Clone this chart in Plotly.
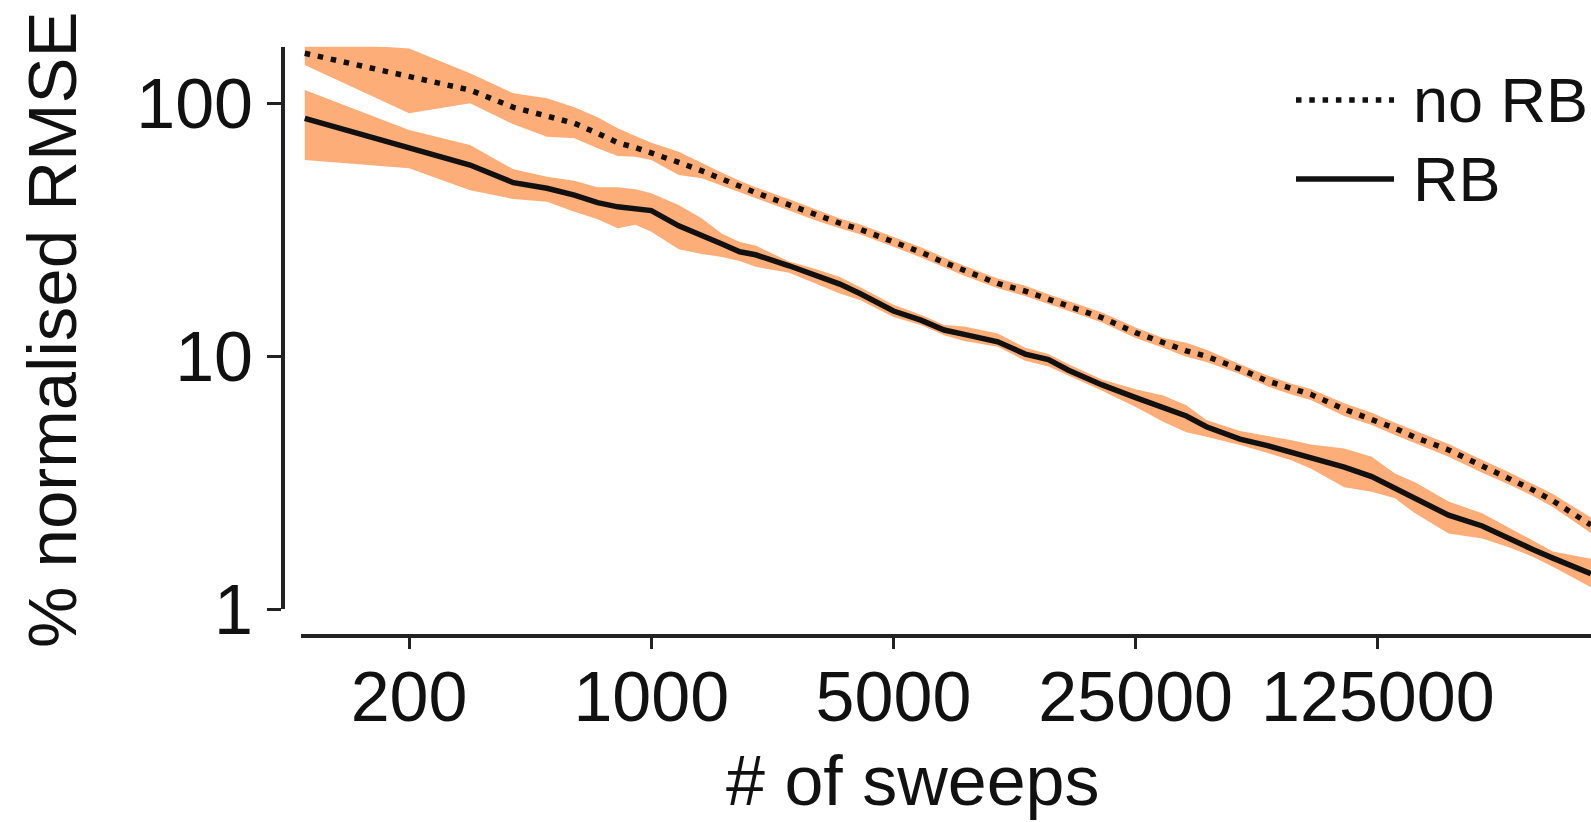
import plotly.graph_objects as go

# Number of sweeps (log-spaced sample points)
sweeps = [100, 200, 300, 400, 500, 600, 700, 800, 900, 1000,
          1200, 1400, 1600, 1800, 2000, 2500, 3000, 3500, 4000, 5000,
          6000, 7000, 8000, 10000, 12000, 14000, 16000, 20000, 25000, 30000,
          35000, 40000, 50000, 60000, 70000, 80000, 100000, 120000, 140000, 160000,
          200000, 250000, 300000, 350000, 400000, 515000]

# % normalised RMSE without Rao-Blackwellisation: mean and spread
no_rb = [158, 127.6, 113, 96.6, 89.2, 83.5, 76.2, 70, 66.9, 63.9,
         58.5, 54.1, 50.1, 46.9, 44.4, 39.7, 36.2, 33.6, 31.8, 28.4,
         25.8, 23.5, 21.8, 19.4, 18.1, 16.8, 15.8, 14.2, 12.4, 11.3,
         10.5, 10.0, 8.9, 7.98, 7.44, 7.07, 6.17, 5.65, 5.19, 4.78,
         4.26, 3.68, 3.29, 2.96, 2.68, 2.15]
no_rb_hi = [176, 165, 131.7, 109.7, 104.9, 96.6, 88.2, 79.8, 74.3, 70,
            64.5, 58, 53.2, 49.5, 46.6, 41.8, 37.9, 35.1, 33.3, 29.7,
            27, 24.6, 22.8, 20.3, 19, 17.6, 16.5, 14.9, 13, 11.8,
            11.3, 10.6, 9.3, 8.4, 7.8, 7.42, 6.51, 5.98, 5.46, 5.08,
            4.5, 3.89, 3.47, 3.12, 2.85, 2.3]
no_rb_lo = [142, 91.5, 100.2, 82.7, 73.9, 72.8, 66.5, 62, 61.6, 59.8,
            52.1, 50.6, 47.2, 44.4, 42.2, 37.7, 34.4, 32.1, 30.4, 27.1,
            24.6, 22.5, 20.8, 18.6, 17.3, 16.1, 15.1, 13.6, 11.8, 10.8,
            9.96, 9.5, 8.5, 7.6, 7.07, 6.71, 5.8, 5.35, 4.88, 4.52,
            4.0, 3.46, 3.1, 2.8, 2.53, 2.0]

# % normalised RMSE with Rao-Blackwellisation: mean and spread
rb = [87.4, 66.5, 57.1, 48.6, 46.2, 43.4, 40.5, 39, 38.5, 37.7,
      32.8, 30.2, 27.8, 25.9, 25.2, 22.8, 20.8, 19.3, 17.7, 15.1,
      13.9, 12.7, 12.2, 11.4, 10.2, 9.7, 8.8, 7.7, 6.86, 6.3,
      5.8, 5.26, 4.7, 4.43, 4.19, 3.97, 3.64, 3.34, 3.0, 2.77,
      2.35, 2.13, 1.89, 1.72, 1.59, 1.38]
rb_hi = [113, 78.6, 68.5, 54.9, 51.3, 49.5, 46.6, 46.6, 45.8, 44.1,
         39.7, 35.1, 30.5, 28.3, 27.4, 23.7, 22.1, 20.6, 18.8, 16,
         14.6, 13.3, 13.1, 12.3, 10.8, 10.2, 9.3, 8.1, 7.4, 7.0,
         6.4, 5.6, 5.06, 4.85, 4.66, 4.48, 4.32, 4.0, 3.44, 3.17,
         2.66, 2.39, 2.09, 1.87, 1.69, 1.58]
rb_lo = [59.8, 55.4, 45.4, 41.9, 40.9, 37.3, 34.8, 32.1, 33.1, 31.1,
         26.5, 25.4, 24.7, 23.8, 22.6, 21.4, 19.3, 17.7, 16.7, 14.3,
         13.3, 12.1, 11.5, 10.9, 9.6, 9.1, 8.4, 7.3, 6.3, 5.5,
         5.0, 4.8, 4.46, 4.15, 3.89, 3.6, 3.03, 2.91, 2.74, 2.39,
         1.99, 1.9, 1.75, 1.61, 1.47, 1.22]

x_tickvals = [200, 1000, 5000, 25000, 125000]
x_ticktext = ["200", "1000", "5000", "25000", "125000"]
y_tickvals = [1, 10, 100]
y_ticktext = ["1", "10", "100"]

W, H = 1591, 822
FONT = "Liberation Sans, Arial, sans-serif"
BAND = "rgb(253,173,120)"
INK = "#111111"
AXIS = "#222222"
LW = 5.5
DOT = "5.5px,7.8px"

fig = go.Figure()

for hi, lo in [(no_rb_hi, no_rb_lo), (rb_hi, rb_lo)]:
    fig.add_trace(go.Scatter(
        x=sweeps + sweeps[::-1], y=hi + lo[::-1],
        fill="toself", fillcolor=BAND, mode="lines",
        line=dict(width=0, color=BAND), hoverinfo="skip", showlegend=False))

fig.add_trace(go.Scatter(x=sweeps, y=no_rb, mode="lines", name="no RB",
                         line=dict(color=INK, width=LW, dash=DOT), showlegend=False))
fig.add_trace(go.Scatter(x=sweeps, y=rb, mode="lines", name="RB",
                         line=dict(color=INK, width=LW), showlegend=False))

# legend drawn as line samples plus labels
def px_x(v):
    return v / W

def px_y(v):
    return (H - v) / H

for y, dash, label in [(100, DOT, "no RB"), (179, "solid", "RB")]:
    fig.add_shape(type="line", xref="paper", yref="paper",
                  x0=px_x(1296), x1=px_x(1394), y0=px_y(y), y1=px_y(y),
                  line=dict(color=INK, width=LW, dash=dash))
    fig.add_annotation(text=label, xref="paper", yref="paper",
                       x=px_x(1411), y=px_y(y), xanchor="left", yanchor="middle",
                       showarrow=False, font=dict(family=FONT, size=63, color=INK))

# axis titles
fig.add_annotation(text="# of sweeps", xref="paper", yref="paper",
                   x=px_x(913), y=0, xanchor="center", yanchor="bottom",
                   showarrow=False, font=dict(family=FONT, size=70, color=INK))
fig.add_annotation(text="% normalised RMSE", xref="paper", yref="paper",
                   x=px_x(53), y=px_y(330), xanchor="center", yanchor="middle",
                   textangle=-90, showarrow=False,
                   font=dict(family=FONT, size=69, color=INK))

fig.update_layout(
    width=W, height=H,
    margin=dict(l=0, r=0, t=0, b=0),
    paper_bgcolor="white", plot_bgcolor="white",
    xaxis=dict(
        type="log", range=[1.99, 5.712],
        domain=[301.3 / W, 1.0], anchor="free", position=px_y(636),
        showline=True, linewidth=4, linecolor=AXIS,
        ticks="outside", ticklen=11, tickwidth=3, tickcolor=AXIS,
        tickvals=x_tickvals, ticktext=x_ticktext, ticklabelstandoff=-12,
        tickfont=dict(family=FONT, size=70, color=INK),
        showgrid=False, zeroline=False, automargin=False),
    yaxis=dict(
        type="log", range=[0, 2.2247],
        domain=[px_y(609), px_y(46.7)], anchor="free", position=px_x(283),
        showline=True, linewidth=4, linecolor=AXIS,
        ticks="outside", ticklen=14, tickwidth=3, tickcolor=AXIS,
        tickvals=y_tickvals, ticktext=y_ticktext,
        tickfont=dict(family=FONT, size=70, color=INK),
        showgrid=False, zeroline=False, automargin=False),
)

fig.write_html("out.html")
